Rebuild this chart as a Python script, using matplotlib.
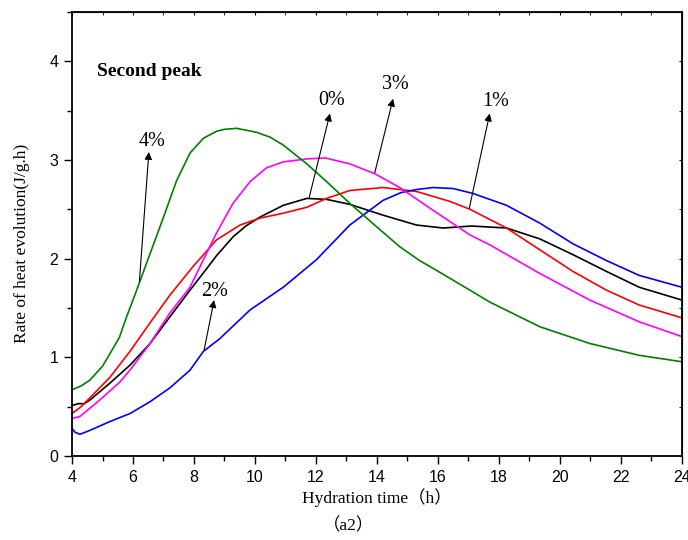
import numpy as np
import matplotlib
matplotlib.use('Agg')
import matplotlib.pyplot as plt
from matplotlib.ticker import MultipleLocator

serif = ['Liberation Serif', 'Noto Sans CJK SC', 'DejaVu Serif']
sans = ['Liberation Sans', 'DejaVu Sans']

# 0% (black)
x0 = [4.0, 4.2, 4.4, 4.6, 5.25, 5.9, 6.56, 7.21, 7.87, 8.42, 8.74, 9.28, 9.7, 10.16, 10.93, 11.7,
      12.35, 13.11, 14.2, 15.3, 16.17, 17.1, 18.25, 19.34, 20.43, 21.53, 22.6, 24.0]
y0 = [0.51, 0.53, 0.53, 0.57, 0.74, 0.92, 1.14, 1.41, 1.68, 1.90, 2.03, 2.22, 2.33, 2.42, 2.54, 2.61,
      2.60, 2.55, 2.44, 2.34, 2.31, 2.33, 2.31, 2.20, 2.04, 1.87, 1.71, 1.58]

# 1% (red)
x1 = [4.0, 4.3, 4.59, 5.25, 5.9, 6.56, 7.21, 7.97, 8.74, 9.51, 10.16, 10.93, 11.7, 12.35, 13.11,
      14.2, 15.3, 16.39, 17.05, 18.25, 19.34, 20.43, 21.53, 22.6, 24.0]
y1 = [0.43, 0.50, 0.59, 0.80, 1.06, 1.35, 1.63, 1.92, 2.19, 2.34, 2.41, 2.46, 2.52, 2.61, 2.69,
      2.72, 2.68, 2.58, 2.50, 2.31, 2.09, 1.87, 1.68, 1.53, 1.40]

# 2% (blue)
x2 = [4.0, 4.1, 4.26, 4.59, 5.25, 5.9, 6.56, 7.21, 7.87, 8.31, 8.85, 9.84, 10.93, 12.02, 13.11,
      14.2, 14.8, 15.3, 15.84, 16.5, 17.15, 18.25, 19.34, 20.43, 21.53, 22.6, 24.0]
y2 = [0.28, 0.24, 0.22, 0.26, 0.35, 0.43, 0.55, 0.69, 0.87, 1.06, 1.19, 1.48, 1.71, 1.99, 2.34,
      2.59, 2.67, 2.70, 2.72, 2.71, 2.66, 2.54, 2.36, 2.15, 1.98, 1.83, 1.71]

# 3% (magenta)
x3 = [4.0, 4.26, 4.92, 5.57, 5.9, 6.56, 7.21, 7.87, 8.2, 8.74, 9.28, 9.84, 10.38, 10.93, 11.7,
      12.3, 13.11, 13.93, 14.75, 15.84, 17.05, 17.7, 19.34, 20.98, 22.6, 24.0]
y3 = [0.38, 0.40, 0.57, 0.75, 0.87, 1.14, 1.45, 1.71, 1.92, 2.26, 2.56, 2.78, 2.92, 2.98, 3.01,
      3.02, 2.96, 2.86, 2.72, 2.49, 2.24, 2.14, 1.85, 1.58, 1.36, 1.21]

# 4% (green)
x4 = [4.0, 4.3, 4.59, 5.0, 5.25, 5.55, 5.79, 6.12, 6.56, 7.0, 7.43, 7.87, 8.31, 8.74, 9.0, 9.4,
      10.05, 10.5, 10.93, 11.7, 12.35, 13.11, 14.0, 14.75, 15.4, 16.07, 17.05, 17.7, 19.34,
      20.98, 22.6, 24.0]
y4 = [0.67, 0.71, 0.77, 0.91, 1.04, 1.20, 1.41, 1.68, 2.05, 2.42, 2.79, 3.07, 3.22, 3.29, 3.31,
      3.32, 3.28, 3.23, 3.15, 2.96, 2.78, 2.56, 2.32, 2.12, 1.98, 1.86, 1.68, 1.56, 1.31, 1.14,
      1.02, 0.955]

series = [(x0, y0, 'black'), (x1, y1, '#ff0000'), (x2, y2, '#0000ff'),
          (x3, y3, '#ff00ff'), (x4, y4, '#008000')]

# label text, arrow tail (on curve), arrow head, text position
labels = ['4%', '2%', '0%', '3%', '1%']
arrow_tail = [(6.21, 1.77), (8.33, 1.07), (11.78, 2.62), (13.93, 2.87), (17.03, 2.51)]
arrow_head = [(6.52, 3.08), (8.66, 1.58), (12.46, 3.47), (14.53, 3.62), (17.7, 3.47)]
label_pos = [(6.62, 3.19), (8.69, 1.67), (12.51, 3.60), (14.59, 3.76), (17.9, 3.59)]

fig = plt.figure(figsize=(6.88, 5.40), dpi=100)
ax = fig.add_axes([0.1047, 0.1556, 0.8863, 0.8224])

for x, y, c in series:
    ax.plot(x, y, color=c, lw=1.2, solid_joinstyle='round')

for lab, t, h, p in zip(labels, arrow_tail, arrow_head, label_pos):
    ax.annotate('', xy=h, xytext=t,
                arrowprops=dict(arrowstyle='-|>', color='k', lw=0.8,
                                mutation_scale=11, shrinkA=0, shrinkB=0))
    ax.text(p[0], p[1], lab, ha='center', va='center', fontsize=14.5, family=serif)

ax.text(4.82, 3.90, 'Second peak', ha='left', va='center', fontsize=14,
        fontweight='bold', family=serif)

ax.set_xlim(4, 24)
ax.set_ylim(0, 4.5)
ax.set_xticks(np.arange(4, 25, 2))
ax.set_yticks([0, 1, 2, 3, 4])
ax.xaxis.set_minor_locator(MultipleLocator(1))
ax.yaxis.set_minor_locator(MultipleLocator(0.5))
ax.tick_params(which='major', direction='out', length=6, width=1.0, labelsize=11.5, pad=4)
ax.tick_params(which='minor', direction='out', length=3.5, width=1.0)
for lbl in ax.get_xticklabels() + ax.get_yticklabels():
    lbl.set_family(sans)
for s in ax.spines.values():
    s.set_linewidth(1.3)

# small inward ticks on top and right
top = ax.secondary_xaxis('top')
top.set_xticks(np.arange(4, 25, 2))
top.xaxis.set_minor_locator(MultipleLocator(1))
top.tick_params(which='both', direction='in', length=2, labeltop=False)
right = ax.secondary_yaxis('right')
right.set_yticks([0, 1, 2, 3, 4])
right.yaxis.set_minor_locator(MultipleLocator(0.5))
right.tick_params(which='both', direction='in', length=2, labelright=False)

ax.set_xlabel('Hydration time（h）', fontsize=12.5, family=serif, labelpad=2)
fig.text(22 / 688, 1 - 243 / 540, 'Rate of heat evolution(J/g.h)', rotation=90,
         ha='center', va='center', fontsize=12.5, family=serif)
fig.text(349 / 688, 1 - 526 / 540, '（a2）', ha='center', va='center',
         fontsize=12.5, family=serif)

fig.savefig('out.png', dpi=100)
